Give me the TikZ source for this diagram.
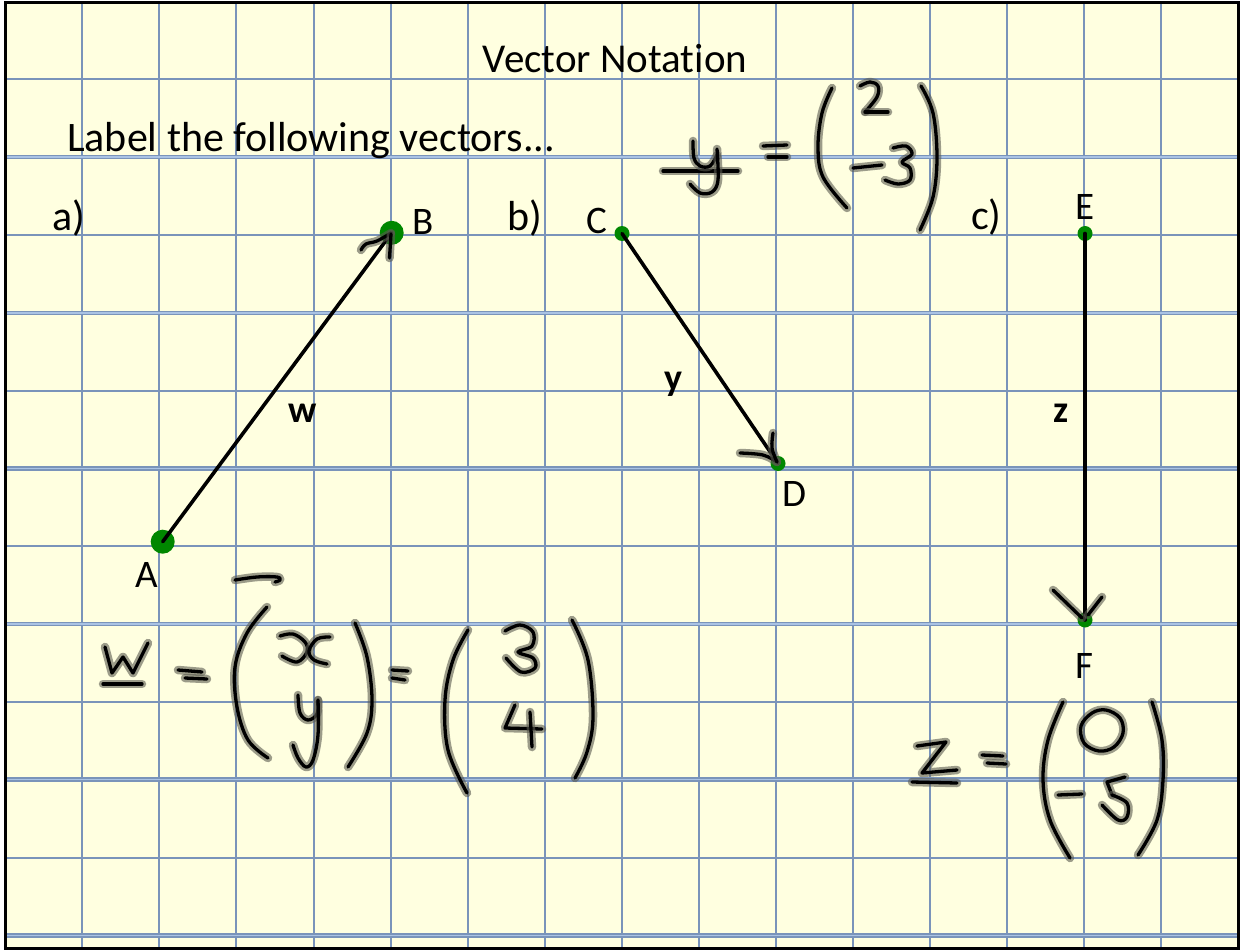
\documentclass[tikz,border=0pt]{standalone}
\usepackage{fontspec}
\setmainfont{Carlito}[Ligatures={NoCommon}]
\definecolor{paper}{RGB}{255,255,224}
\definecolor{gridc}{RGB}{122,148,186}
\definecolor{gridl}{RGB}{170,195,228}
\definecolor{dotg}{RGB}{0,135,0}
\definecolor{halo}{RGB}{90,90,80}
\begin{document}
\begin{tikzpicture}[x=1pt,y=-1pt,
  gridline/.style={draw=gridc, line width=2},
  gridwide/.style={draw=gridc, line width=4.5},
  gridin/.style={draw=gridl, line width=1.5},
  txt/.style={inner sep=0, font=\fontsize{42}{50}\selectfont},
  ttl/.style={inner sep=0, font=\fontsize{41}{50}\selectfont},
  ptlbl/.style={inner sep=0, font=\fontsize{39}{46}\selectfont},
  veclbl/.style={inner sep=0, font=\bfseries\fontsize{38}{44}\selectfont},
  dotbig/.style={circle, fill=dotg, minimum size=24, inner sep=0},
  dotsmall/.style={circle, fill=dotg, minimum size=15, inner sep=0},
  vec/.style={draw=black, line width=3.6, line cap=round},
  ink/.style={draw=black, line width=3.3, line cap=round, line join=round,
    preaction={draw=halo, draw opacity=0.6, line width=8.5, line cap=round, line join=round}},
  sm/.style={smooth, tension=0.6}
]
\useasboundingbox (0,0) rectangle (1241,952);
\fill[white] (0,0) rectangle (1241,952);
\fill[paper] (5,3) rectangle (1238,948);
% grid
\foreach \i in {0,...,14} {\draw[gridline] ({82.3+77.07*\i},3) -- ({82.3+77.07*\i},948);}
\foreach \j in {0,2,4,6,8,10} {\draw[gridline] (5,{79.3+77.82*\j}) -- (1238,{79.3+77.82*\j});}
\foreach \j in {1,3,5,7,9,11} {\draw[gridwide] (5,{79.3+77.82*\j}) -- (1238,{79.3+77.82*\j});
  \draw[gridin] (5,{79.3+77.82*\j}) -- (1238,{79.3+77.82*\j});}
\draw[black, line width=3] (5,3) rectangle (1238,948);

% texts
\node[ttl, anchor=base] (title) at (615,73) {Vector Notation};
\node[txt, anchor=base west] (instr) at (67,152) {Label the following vectors...};
\node[txt, anchor=base west] (pa) at (52,230) {a)};
\node[txt, anchor=base west] (pb) at (507,230) {b)};
\node[txt, anchor=base west] (pc) at (971,229) {c)};

% points
\node[dotbig] (A) at (162.7,541.7) {};
\node[dotbig] (B) at (391.7,232.8) {};
\node[dotsmall] (C) at (622,233.5) {};
\node[dotsmall] (D) at (778,463.5) {};
\node[dotsmall] (E) at (1085,233.5) {};
\node[dotsmall] (F) at (1085,620) {};

\node[ptlbl, anchor=base west] (lA) at (135,587) {A};
\node[ptlbl, anchor=base west] (lB) at (412,234) {B};
\node[ptlbl, anchor=base west] (lC) at (586,233) {C};
\node[ptlbl, anchor=base west] (lD) at (782,506) {D};
\node[ptlbl, anchor=base] (lE) at (1085,219) {E};
\node[ptlbl, anchor=base west] (lF) at (1075,678) {F};

% vectors
\draw[vec] (A.center) -- (B.center);
\draw[vec] (C.center) -- (D.center);
\draw[vec] (E.center) -- (F.center);

\node[veclbl, anchor=base] (lw) at (303,422) {w};
\node[veclbl, anchor=base] (ly) at (673,390) {y};
\node[veclbl, anchor=base] (lz) at (1061,422) {z};

% hand-drawn arrowheads
\draw[ink] plot[sm] coordinates {(361,250) (366,244) (377,241) (391,233)};
\draw[ink] (391,234) -- (389.5,258);
\draw[ink] plot[sm] coordinates {(740,453) (763,455) (777,462)};
\draw[ink] plot[sm] coordinates {(773,433) (772,448) (777,462)};
\draw[ink] (1053,590) -- (1082,618);
\draw[ink] (1102,597) -- (1088,615);

% y = (2, -3)
\draw[ink] (663,171) -- (738,171);
\draw[ink] plot[sm] coordinates {(693,141) (694,158) (700,166) (710,166) (717,155)};
\draw[ink] plot[sm] coordinates {(717,149) (718,180) (712,192) (700,193) (690,184)};
\draw[ink] (763,146) -- (787,145);
\draw[ink] (768,157) -- (787,157);
\draw[ink] plot[sm] coordinates {(832,88) (822,113) (818,147) (823,177) (847,208)};
\draw[ink] plot[sm] coordinates {(860,86) (870,82) (878,86) (877,97) (865,112)};
\draw[ink] (865,112) -- (888,112);
\draw[ink] (853,168) -- (882,165);
\draw[ink] plot[sm] coordinates {(893,148) (906,146) (912,154) (902,162) (910,168) (910,180) (898,184) (885,180)};
\draw[ink] plot[sm] coordinates {(921,86) (933,113) (937,157) (933,197) (920,230)};

% w = (x, y) = (3, 4)
\draw[ink] plot[sm] coordinates {(235,580) (257,577) (277,577) (280,580) (275,582)};
\draw[ink] (105,647) -- (112,673) -- (123,657) -- (133,673) -- (148,643);
\draw[ink] (103,684) -- (142,684);
\draw[ink] (178,670) -- (202,672);
\draw[ink] (185,678) -- (207,679);
\draw[ink] plot[sm] coordinates {(267,607) (247,633) (235,667) (237,707) (248,740) (268,758)};
\draw[ink] plot[sm] coordinates {(280,636) (293,634) (305,642) (307,652) (297,662) (282,656)};
\draw[ink] plot[sm] coordinates {(330,637) (317,639) (309,651) (314,660) (327,664)};
\draw[ink] plot[sm] coordinates {(298,695) (300,713) (308,720) (317,714) (318,700)};
\draw[ink] plot[sm] coordinates {(318,700) (318,735) (313,760) (306,767) (298,758) (293,745)};
\draw[ink] plot[sm] coordinates {(355,623) (367,657) (372,700) (367,733) (348,767)};
\draw[ink] (392,670) -- (408,671);
\draw[ink] (392,678) -- (405,680);
\draw[ink] plot[sm] coordinates {(468,630) (453,660) (445,700) (448,750) (467,793)};
\draw[ink] plot[sm] coordinates {(505,631) (520,625) (533,632) (532,646) (518,652) (533,658) (535,668) (521,672) (506,658)};
\draw[ink] (515,705) -- (505,728) -- (542,729);
\draw[ink] (530,712) -- (532,747);
\draw[ink] plot[sm] coordinates {(572,620) (588,660) (593,717) (587,752) (575,778)};

% z = (0, -5)
\draw[ink] (917,746) -- (946,742) -- (922,773) -- (957,770);
\draw[ink] (912,782) -- (957,783);
\draw[ink] (982,755) -- (1003,756);
\draw[ink] (987,763) -- (1006,764);
\draw[ink] plot[sm] coordinates {(1063,702) (1048,740) (1043,780) (1050,820) (1070,858)};
\draw[ink] plot[smooth cycle, tension=0.6] coordinates {(1106,710) (1120,718) (1123,733) (1114,747) (1099,751) (1084,743) (1081,726) (1092,713)};
\draw[ink] (1058,795) -- (1082,794);
\draw[ink] (1125,777) -- (1107,782) -- (1112,795);
\draw[ink] plot[sm] coordinates {(1112,795) (1127,803) (1127,817) (1118,820) (1102,805)};
\draw[ink] plot[sm] coordinates {(1152,702) (1162,740) (1163,780) (1157,820) (1138,855)};
\end{tikzpicture}
\end{document}
